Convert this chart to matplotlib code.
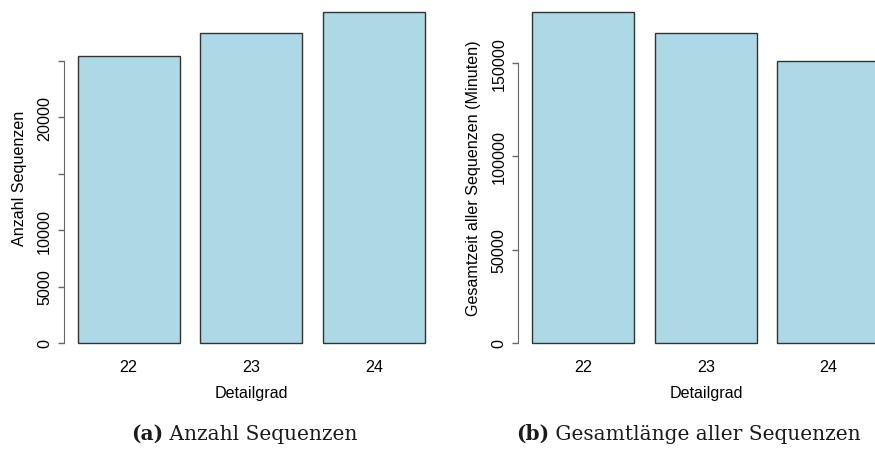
import matplotlib
matplotlib.use("Agg")
import matplotlib.pyplot as plt

# Daten je Detailgrad
detailgrad = ["22", "23", "24"]
anzahl = [25400, 27500, 29300]
gesamtzeit = [177000, 165700, 151000]
ticks_a = [0, 5000, 10000, 15000, 20000, 25000]
labels_a = ["0", "5000", "10000", "", "20000", ""]
ticks_b = [0, 50000, 100000, 150000]
labels_b = ["0", "50000", "100000", "150000"]

W, H = 875, 452
fig = plt.figure(figsize=(W / 100, H / 100), dpi=100)
plt.rcParams['font.family'] = ['Liberation Sans', 'DejaVu Sans']
plt.rcParams['text.color'] = '#1a1a1a'

# barplot im R-Stil: Breite 1, Abstand 0.2, 4% Rand
pos = [0.2 + 1.2 * i + 0.5 for i in range(3)]
xlim = (0.2 - 0.04 * 3.4, 3.6 + 0.04 * 3.4)
ax_w = 375.2 / W
bottom = (H - 357.2) / H
height = 1 - bottom
fs = 11.6


def barplot(ax, values, ticks, ticklabels, ylabel, ylpad):
    ax.bar(pos, values, width=1.0, color='#add8e6', edgecolor='#333333', linewidth=1)
    ymax = max(values)
    ax.set_xlim(*xlim)
    ax.set_ylim(-0.04 * ymax, 1.04 * ymax)
    for s in ['top', 'right', 'bottom']:
        ax.spines[s].set_visible(False)
    ax.spines['left'].set_bounds(ticks[0], ticks[-1])
    ax.spines['left'].set_color('#666666')
    ax.set_yticks(ticks)
    ax.set_yticklabels(ticklabels, rotation=90, va='center', fontsize=fs)
    ax.tick_params(axis='y', length=4, width=1, color='#666666', pad=4.5)
    ax.set_xticks(pos)
    ax.set_xticklabels(detailgrad, fontsize=fs)
    ax.tick_params(axis='x', length=0, pad=2)
    ax.set_xlabel('Detailgrad', fontsize=fs, labelpad=8)
    ax.set_ylabel(ylabel, fontsize=fs, labelpad=ylpad)
    ax.patch.set_alpha(0)


ax1 = fig.add_axes([63.7 / W, bottom, ax_w, height])
barplot(ax1, anzahl, ticks_a, labels_a, 'Anzahl Sequenzen', 7)

ax2 = fig.add_axes([518.3 / W, bottom, ax_w, height])
barplot(ax2, gesamtzeit, ticks_b, labels_b,
        'Gesamtzeit aller Sequenzen (Minuten)', 7.5)

# Unterschriften: fettes Kürzel + normaler Text, zentriert
serif = ['DejaVu Serif', 'Liberation Serif']
captions = [(244, '(a)', 'Anzahl Sequenzen'), (688, '(b)', 'Gesamtlänge aller Sequenzen')]
y_cap = 1 - 440 / H
renderer = fig.canvas.get_renderer()
for xc, tag, title in captions:
    t1 = fig.text(0, y_cap, tag, family=serif, fontsize=14.5, fontweight='bold', va='baseline')
    t2 = fig.text(0, y_cap, ' ' + title, family=serif, fontsize=14.5, va='baseline')
    w1 = t1.get_window_extent(renderer).width
    w2 = t2.get_window_extent(renderer).width
    x0 = xc - (w1 + w2) / 2
    t1.set_x(x0 / W)
    t2.set_x((x0 + w1) / W)

fig.savefig('out.png', dpi=100)
